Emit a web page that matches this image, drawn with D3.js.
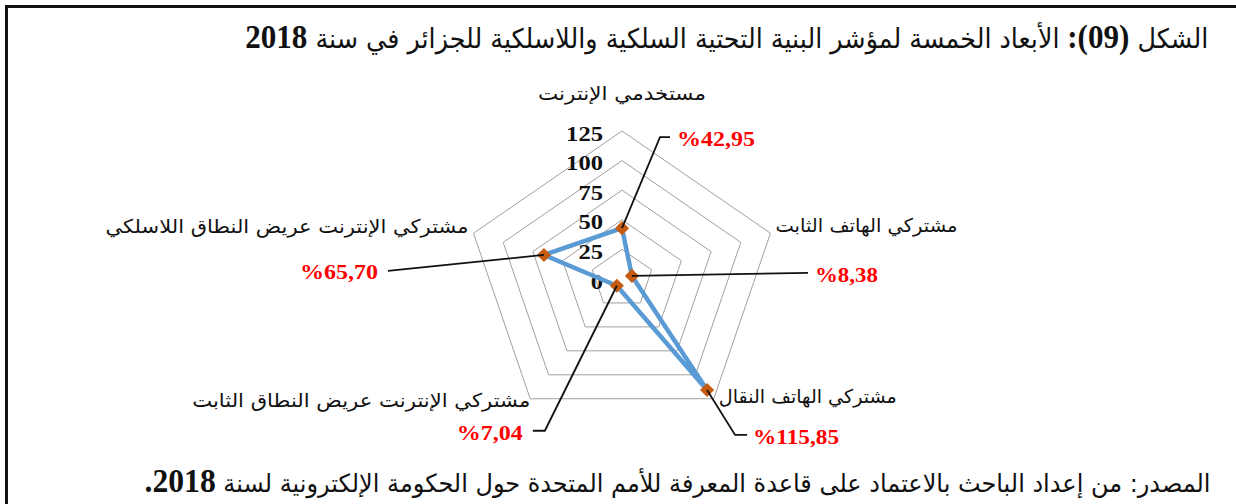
<!DOCTYPE html>
<html><head><meta charset="utf-8">
<script src="https://cdn.jsdelivr.net/npm/d3@7"></script>
<style>
html,body{margin:0;padding:0;background:#fff;width:1236px;height:504px;overflow:hidden;}
#wrap{position:relative;width:1236px;height:504px;}
svg{position:absolute;left:0;top:0;}
.tline{position:absolute;white-space:nowrap;direction:rtl;transform-origin:100% 0;color:#111;line-height:40px;}
.ar{font-family:"DejaVu Sans",sans-serif;}
.num{font-family:"Liberation Serif",serif;font-weight:bold;}
.base{display:inline-block;width:0;height:0;}
</style></head><body><div id="wrap"></div>
<script>
// ---- data ----
const categories = [
  "مستخدمي الإنترنت",
  "مشتركي الهاتف الثابت",
  "مشتركي الهاتف النقال",
  "مشتركي الإنترنت عريض النطاق الثابت",
  "مشتركي الإنترنت عريض النطاق اللاسلكي"
];
const values = [42.95, 8.38, 115.85, 7.04, 65.70];
const valueLabels = ["%42,95", "%8,38", "%115,85", "%7,04", "%65,70"];
const ticks = [0, 25, 50, 75, 100, 125];
const titleParts = [["ar", "الشكل "], ["num", "(09)"], ["num", ": "], ["ar", "الأبعاد الخمسة لمؤشر البنية التحتية السلكية واللاسلكية للجزائر في سنة "], ["num", "2018"]];
const sourceParts = [["ar", "المصدر: من إعداد الباحث بالاعتماد على قاعدة المعرفة للأمم المتحدة حول الحكومة الإلكترونية لسنة "], ["num", "2018."]];

// ---- layout ----
const W = 1236, H = 504;
const cx = 622, cy = 279, R = 148, kx = 1.055;
const catLayout = [
  {dx: 0, dy: -31, anchor: "middle", w: 168},
  {dx: 5, dy: -1, anchor: "start", w: 182},
  {dx: 5, dy: 4, anchor: "start", w: 178},
  {dx: 0, dy: 8, anchor: "end", w: 338},
  {dx: -5, dy: 0, anchor: "end", w: 363}
];
const leaderLayout = [
  {pts: [[38, -91], [48, -91]], tx: 55, ty: -90, anchor: "start", w: 78},
  {pts: [[176, -3]], tx: 183, ty: -1, anchor: "start", w: 63},
  {pts: [[28, 45], [40, 45]], tx: 46, ty: 47, anchor: "start", w: 86},
  {pts: [[-72, 145], [-84, 145]], tx: -94, ty: 147, anchor: "end", w: 66},
  {pts: [[-156, 16]], tx: -166, ty: 17, anchor: "end", w: 78}
];

const wrap = d3.select("#wrap");
const svg = wrap.append("svg").attr("width", W).attr("height", H);

svg.append("rect").attr("x", 6.5).attr("y", 6.5).attr("width", W + 10).attr("height", H + 10)
  .attr("fill", "none").attr("stroke", "#111").attr("stroke-width", 3);

const r = d3.scaleLinear().domain([0, 125]).range([0, R]);
const angle = d3.scaleLinear().domain([0, categories.length]).range([0, 2 * Math.PI]);
const pt = (i, v) => [cx + kx * r(v) * Math.sin(angle(i)), cy - r(v) * Math.cos(angle(i))];
const closed = d3.line().curve(d3.curveLinearClosed);

// grid
svg.append("g").selectAll("path").data(ticks.filter(t => t > 0)).join("path")
  .attr("d", t => closed(categories.map((c, i) => pt(i, t))))
  .attr("fill", "none").attr("stroke", "#a0a0a0").attr("stroke-width", 1);

// tick labels
svg.append("g").selectAll("text").data(ticks).join("text")
  .attr("x", cx - 19).attr("y", t => cy - r(t) + 2)
  .attr("text-anchor", "end").attr("dominant-baseline", "central")
  .attr("font-family", "Liberation Serif").attr("font-weight", "bold").attr("font-size", 22)
  .attr("textLength", t => String(t).length * 12.3).attr("lengthAdjust", "spacingAndGlyphs")
  .attr("fill", "#111").text(t => t);

// category labels
svg.append("g").selectAll("text").data(categories).join("text")
  .each(function(c, i) {
    const p = pt(i, 125), L = catLayout[i];
    d3.select(this).attr("x", p[0] + L.dx).attr("y", p[1] + L.dy)
      .attr("text-anchor", L.anchor).attr("textLength", L.w).attr("lengthAdjust", "spacingAndGlyphs");
  })
  .attr("font-family", "DejaVu Sans").attr("font-size", 19).attr("fill", "#111").text(c => c);

// series
const pts = values.map((v, i) => pt(i, v));
svg.append("path").attr("d", closed(pts)).attr("fill", "none")
  .attr("stroke", "#5b9bd5").attr("stroke-width", 4.5).attr("stroke-linejoin", "round");

svg.append("g").selectAll("path").data(pts).join("path")
  .attr("d", d3.symbol(d3.symbolSquare, 100)())
  .attr("transform", p => `translate(${p[0]},${p[1]}) rotate(45)`)
  .attr("fill", "#c55a11");

// leaders + value labels
const lineGen = d3.line();
svg.append("g").selectAll("path").data(pts).join("path")
  .attr("d", (p, i) => lineGen([p, ...leaderLayout[i].pts.map(d => [p[0] + d[0], p[1] + d[1]])]))
  .attr("fill", "none").attr("stroke", "#111").attr("stroke-width", 1.8);

svg.append("g").selectAll("text").data(valueLabels).join("text")
  .each(function(s, i) {
    const p = pts[i], L = leaderLayout[i];
    d3.select(this).attr("x", p[0] + L.tx).attr("y", p[1] + L.ty)
      .attr("text-anchor", L.anchor).attr("textLength", L.w).attr("lengthAdjust", "spacingAndGlyphs");
  })
  .attr("dominant-baseline", "central")
  .attr("font-family", "Liberation Serif").attr("font-weight", "bold").attr("font-size", 22)
  .attr("fill", "#ff0000").text(s => s);

// title & source lines (RTL HTML text fitted to width)
function textLine(parts, right, left, baseline, arSize, numSize) {
  const div = wrap.append("div").attr("class", "tline").style("right", (W - right) + "px").style("top", "0px");
  parts.forEach(([cls, s]) => div.append("span").attr("class", cls)
    .style("font-size", (cls === "ar" ? arSize : numSize) + "px").text(s));
  const b = div.append("span").attr("class", "base");
  const node = div.node();
  const w = node.getBoundingClientRect().width;
  const by = b.node().getBoundingClientRect().top;
  node.style.top = (baseline - by) + "px";
  node.style.transform = `scaleX(${(right - left) / w})`;
}
textLine(titleParts, 1208, 245, 48, 27, 33);
textLine(sourceParts, 1211, 145, 492, 25, 33);
</script></body></html>
